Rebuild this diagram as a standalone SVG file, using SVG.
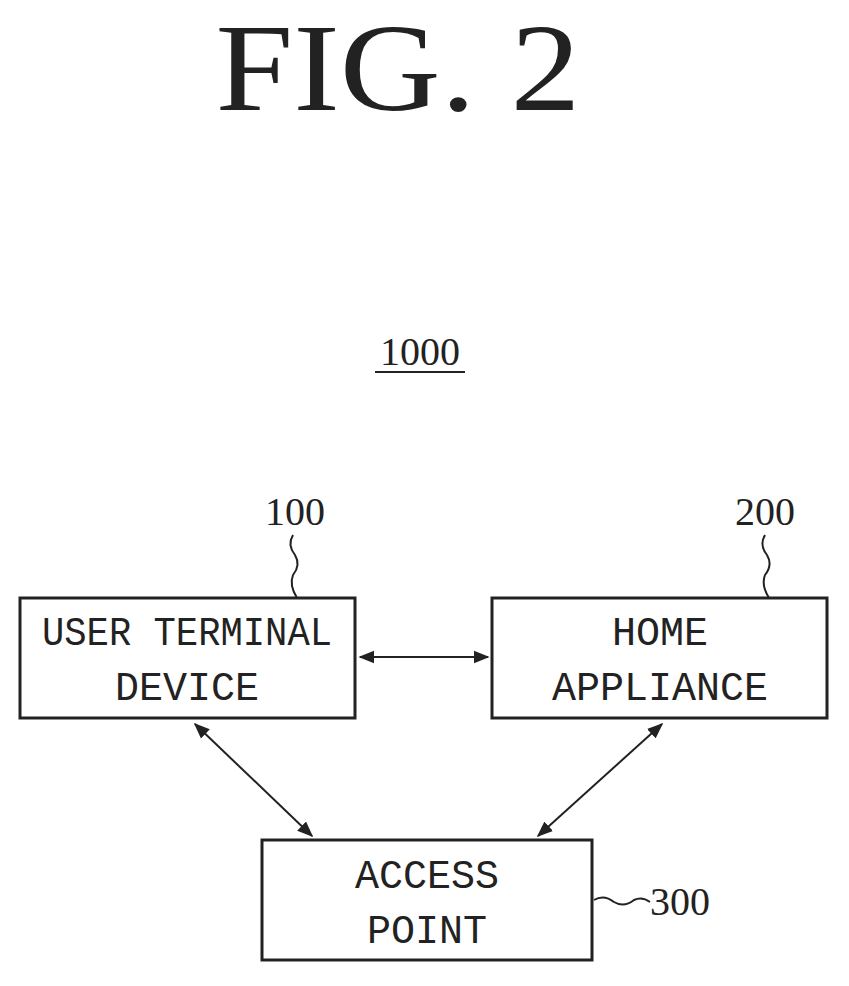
<svg xmlns="http://www.w3.org/2000/svg" width="849" height="986" viewBox="0 0 849 986">
<style>
.box{fill:#fff;stroke:#222;stroke-width:3}
.t{font-family:"Liberation Mono",monospace;font-size:40px;fill:#222;text-anchor:middle}
.n{font-family:"Liberation Serif",serif;font-size:40px;fill:#222;text-anchor:middle}
.c{stroke:#222;stroke-width:2;fill:none}
</style>
<defs>
<marker id="a" viewBox="0 0 10 10" refX="9" refY="5" markerWidth="8" markerHeight="8" orient="auto-start-reverse"><path d="M0,1 L10,5 L0,9 Z" fill="#222"/></marker>
</defs>
<rect width="849" height="986" fill="#fff"/>
<text x="398" y="110" font-family="Liberation Serif,serif" font-size="125" fill="#222" text-anchor="middle" textLength="365" lengthAdjust="spacingAndGlyphs">FIG. 2</text>
<text x="420" y="365" class="n">1000</text>
<line x1="375" y1="372" x2="465" y2="372" class="c"/>
<g id="n100"><rect x="20" y="598" width="335" height="120" class="box"/><text x="187" y="645" class="t" textLength="290" lengthAdjust="spacingAndGlyphs">USER TERMINAL</text><text x="187" y="700" class="t">DEVICE</text></g>
<g id="n200"><rect x="492" y="598" width="335" height="120" class="box"/><text x="660" y="645" class="t">HOME</text><text x="660" y="700" class="t">APPLIANCE</text></g>
<g id="n300"><rect x="262" y="840" width="330" height="120" class="box"/><text x="427" y="888" class="t">ACCESS</text><text x="427" y="943" class="t">POINT</text></g>
<g id="labels">
<text x="295" y="525" class="n">100</text>
<path d="M293,535 q-6,10 2,20 q6,10 -2,20 q-4,10 4,23" class="c"/>
<text x="765" y="525" class="n">200</text>
<path d="M765,535 q-6,10 2,20 q6,10 -2,20 q-4,10 4,23" class="c"/>
<text x="680" y="915" class="n">300</text>
<path d="M594,900 q10,-6 20,2 q10,6 20,-2 q8,-4 16,2" class="c"/>
</g>
<g id="connectors">
<line x1="360" y1="657" x2="488" y2="657" class="c" marker-start="url(#a)" marker-end="url(#a)"/>
<line x1="195" y1="724" x2="312" y2="836" class="c" marker-start="url(#a)" marker-end="url(#a)"/>
<line x1="662" y1="724" x2="538" y2="836" class="c" marker-start="url(#a)" marker-end="url(#a)"/>
</g>
</svg>
